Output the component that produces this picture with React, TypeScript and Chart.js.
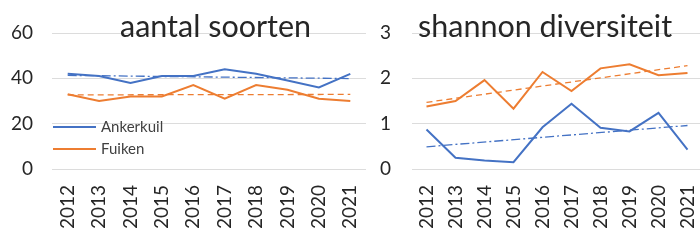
import React, { useEffect, useRef } from 'react';
import { Chart, registerables } from 'chart.js';

Chart.register(...registerables);

// ---- data ----
const years = ['2012', '2013', '2014', '2015', '2016', '2017', '2018', '2019', '2020', '2021'];

const soortenAnkerkuil = [42, 41, 38, 41, 41, 44, 42, 39, 36, 42];
const soortenFuiken = [33, 30, 32, 32, 37, 31, 37, 35, 31, 30];
const soortenTrendAnkerkuil = [41.3, 39.9];
const soortenTrendFuiken = [32.7, 32.9];

const shannonAnkerkuil = [0.87, 0.25, 0.19, 0.15, 0.92, 1.44, 0.91, 0.83, 1.24, 0.43];
const shannonFuiken = [1.38, 1.5, 1.96, 1.33, 2.14, 1.72, 2.22, 2.31, 2.07, 2.12];
const shannonTrendAnkerkuil = [0.49, 0.96];
const shannonTrendFuiken = [1.47, 2.28];

const seriesNames = ['Ankerkuil', 'Fuiken'];
const titles = ['aantal soorten', 'shannon diversiteit'];

// ---- styles ----
const BLUE = '#4472C4';
const ORANGE = '#ED7D31';
const FONT = 'Lato, "Open Sans", sans-serif';
const TEXT = '#262626';
const GRID = '#dcdcdc';

function trendData(ends: number[], n: number) {
  const d: (number | null)[] = new Array(n).fill(null);
  d[0] = ends[0];
  d[n - 1] = ends[1];
  return d;
}

type Props = {
  left: number;
  width: number;
  yMax: number;
  yStep: number;
  yWidth: number;
  yPad: number;
  a: number[];
  f: number[];
  ta: number[];
  tf: number[];
  title: string;
  titleX: number;
  legend: boolean;
};

function LineChart(p: Props) {
  const ref = useRef<HTMLCanvasElement | null>(null);
  useEffect(() => {
    if (!ref.current) return;
    const titlePlugin = {
      id: 'customTitle',
      afterDraw(chart: any) {
        const ctx = chart.ctx;
        ctx.save();
        ctx.font = `30.5px ${FONT}`;
        ctx.fillStyle = TEXT;
        ctx.textAlign = 'left';
        ctx.textBaseline = 'alphabetic';
        ctx.fillText(p.title, p.titleX, 37);
        ctx.restore();
      },
    };
    const legendPlugin = {
      id: 'customLegend',
      afterDatasetsDraw(chart: any) {
        if (!p.legend) return;
        const ctx = chart.ctx;
        const items = [
          { name: seriesNames[0], color: BLUE, y: 127 },
          { name: seriesNames[1], color: ORANGE, y: 149 },
        ];
        ctx.save();
        items.forEach((it) => {
          ctx.strokeStyle = it.color;
          ctx.lineWidth = 2;
          ctx.beginPath();
          ctx.moveTo(53, it.y);
          ctx.lineTo(96, it.y);
          ctx.stroke();
          ctx.font = `15px ${FONT}`;
          ctx.fillStyle = '#404040';
          ctx.textAlign = 'left';
          ctx.textBaseline = 'middle';
          ctx.fillText(it.name, 101, it.y);
        });
        ctx.restore();
      },
    };
    const n = years.length;
    const chart = new Chart(ref.current, {
      type: 'line',
      data: {
        labels: years,
        datasets: [
          {
            label: seriesNames[0],
            data: p.a,
            borderColor: BLUE,
            borderWidth: 2,
            pointRadius: 0,
            tension: 0,
          },
          {
            label: seriesNames[1],
            data: p.f,
            borderColor: ORANGE,
            borderWidth: 2,
            pointRadius: 0,
            tension: 0,
          },
          {
            label: 'trend ' + seriesNames[0],
            data: trendData(p.ta, n),
            borderColor: BLUE,
            borderWidth: 1.3,
            borderDash: [9, 3, 2, 3],
            pointRadius: 0,
            spanGaps: true,
          },
          {
            label: 'trend ' + seriesNames[1],
            data: trendData(p.tf, n),
            borderColor: ORANGE,
            borderWidth: 1.3,
            borderDash: [6, 4],
            pointRadius: 0,
            spanGaps: true,
          },
        ],
      },
      options: {
        animation: false,
        responsive: false,
        devicePixelRatio: 1,
        layout: { padding: { top: 33, right: 0, left: 0, bottom: 0 } },
        plugins: {
          legend: { display: false },
          title: { display: false },
          tooltip: { enabled: false },
        },
        scales: {
          x: {
            type: 'category',
            offset: true,
            grid: { display: false, drawTicks: false },
            border: { display: false },
            ticks: {
              autoSkip: false,
              maxRotation: 90,
              minRotation: 90,
              padding: 16,
              color: TEXT,
              font: { family: FONT, size: 19 },
            },
            afterFit(s: any) {
              s.height = 73;
              s.paddingLeft = 0;
              s.paddingRight = 0;
            },
          },
          y: {
            min: 0,
            max: p.yMax,
            grid: { color: GRID, lineWidth: 1, drawTicks: false },
            border: { display: false },
            ticks: {
              stepSize: p.yStep,
              padding: p.yPad,
              color: TEXT,
              font: { family: FONT, size: 19 },
            },
            afterFit(s: any) {
              s.width = p.yWidth;
            },
          },
        },
      },
      plugins: [titlePlugin, legendPlugin],
    } as any);
    return () => chart.destroy();
  }, []);
  return (
    <canvas
      ref={ref}
      width={p.width}
      height={242}
      style={{ position: 'absolute', left: p.left, top: 0, width: p.width, height: 242 }}
    />
  );
}

export default function App() {
  return (
    <div
      style={{
        position: 'fixed',
        left: 0,
        top: 0,
        width: 700,
        height: 242,
        overflow: 'hidden',
        background: '#ffffff',
      }}
    >
      <LineChart
        left={0}
        width={366}
        yMax={60}
        yStep={20}
        yWidth={52}
        yPad={19}
        a={soortenAnkerkuil}
        f={soortenFuiken}
        ta={soortenTrendAnkerkuil}
        tf={soortenTrendFuiken}
        title={titles[0]}
        titleX={120}
        legend={true}
      />
      <LineChart
        left={360}
        width={342}
        yMax={3}
        yStep={1}
        yWidth={52}
        yPad={21}
        a={shannonAnkerkuil}
        f={shannonFuiken}
        ta={shannonTrendAnkerkuil}
        tf={shannonTrendFuiken}
        title={titles[1]}
        titleX={58}
        legend={false}
      />
    </div>
  );
}
